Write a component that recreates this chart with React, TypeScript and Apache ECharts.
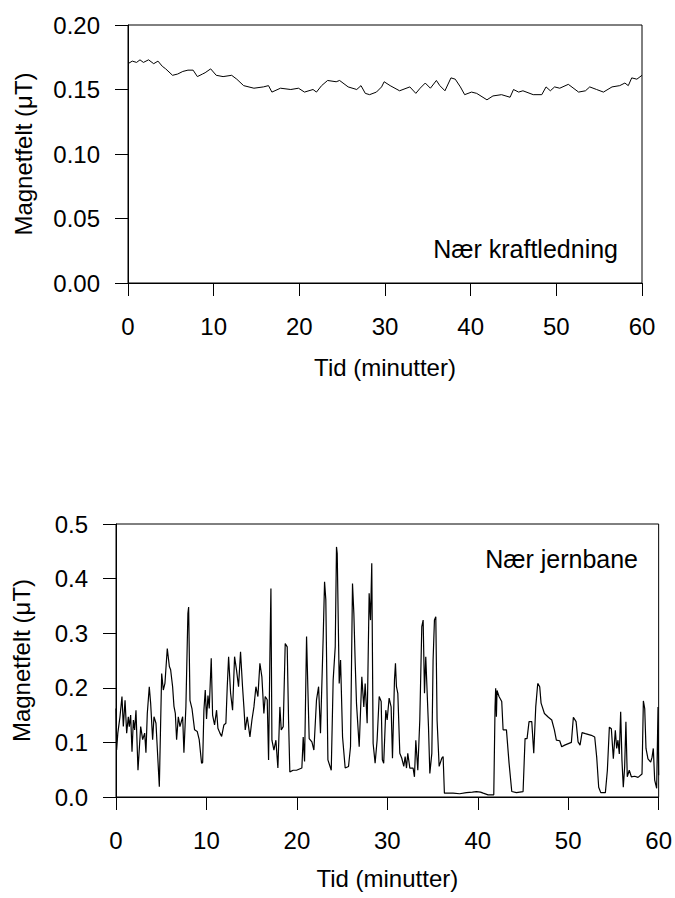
import React, { useEffect, useRef } from "react";
import * as echarts from "echarts";

// Top panel: near power line
const lineTime = [0, 0.5, 1.0, 1.4, 1.8, 2.4, 3.0, 3.5, 4.0, 4.4, 5.2, 5.8, 6.4, 7.0, 7.6, 8.1, 8.7, 9.0, 9.65, 10.3, 11.1, 12.1, 12.7, 13.5, 14.7, 15.8, 16.4, 16.8, 17.8, 19.0, 19.9, 20.6, 21.6, 22.0, 22.6, 23.3, 24.3, 24.7, 25.7, 26.7, 27.2, 27.7, 28.2, 29.0, 29.6, 29.9, 30.6, 31.7, 32.9, 33.6, 34.1, 34.7, 35.3, 36.0, 36.4, 37.0, 37.7, 38.2, 38.8, 39.3, 40.1, 40.7, 41.9, 42.6, 43.6, 44.6, 45.0, 45.6, 46.1, 47.3, 48.3, 48.8, 49.3, 49.8, 50.4, 51.4, 52.6, 53.4, 53.9, 54.7, 55.5, 56.5, 57.4, 58.0, 58.4, 58.8, 59.4, 60];
const lineField = [0.170, 0.172, 0.171, 0.173, 0.171, 0.173, 0.170, 0.172, 0.168, 0.166, 0.161, 0.162, 0.164, 0.165, 0.165, 0.160, 0.162, 0.163, 0.166, 0.161, 0.160, 0.161, 0.158, 0.153, 0.151, 0.152, 0.153, 0.148, 0.151, 0.150, 0.151, 0.148, 0.150, 0.148, 0.153, 0.157, 0.156, 0.157, 0.152, 0.150, 0.153, 0.147, 0.146, 0.148, 0.152, 0.156, 0.153, 0.149, 0.152, 0.147, 0.151, 0.155, 0.151, 0.157, 0.153, 0.149, 0.159, 0.158, 0.152, 0.146, 0.148, 0.147, 0.142, 0.145, 0.146, 0.144, 0.150, 0.148, 0.149, 0.146, 0.146, 0.152, 0.149, 0.152, 0.151, 0.154, 0.148, 0.149, 0.152, 0.150, 0.148, 0.152, 0.153, 0.155, 0.153, 0.159, 0.158, 0.161];

// Bottom panel: near railway
const railTime = [0, 0.07, 0.2, 0.44, 0.66, 0.81, 1.0, 1.18, 1.36, 1.47, 1.62, 1.77, 1.92, 2.06, 2.21, 2.43, 2.73, 2.95, 3.17, 3.31, 3.46, 3.68, 3.83, 4.05, 4.2, 4.42, 4.79, 5.05, 5.23, 5.41, 5.67, 5.9, 6.04, 6.26, 6.41, 6.56, 6.7, 6.89, 7.07, 7.37, 7.51, 7.73, 7.95, 8.03, 8.18, 8.4, 8.69, 8.98, 9.2, 9.46,
  9.58, 9.72, 9.87, 10.01, 10.17, 10.31, 10.53, 10.68, 10.9, 11.12, 11.27, 11.49, 11.68, 11.93, 12.15, 12.3, 12.45, 12.67, 12.89, 13.11, 13.33, 13.55, 13.77, 13.99, 14.14, 14.29, 14.51, 14.81, 15.03, 15.25, 15.47, 15.69, 15.91, 16.13, 16.35, 16.5, 16.72, 16.87, 17.02, 17.13, 17.24, 17.46, 17.68, 17.9, 18.12, 18.27, 18.49, 18.71, 18.93, 19.08, 19.22, 19.59,
  19.96, 20.55, 20.7, 20.85, 21.07, 21.21, 21.36, 21.66, 21.88, 22.17, 22.4, 22.61, 22.91, 23.06, 23.2, 23.43, 23.8, 24.01, 24.24, 24.38, 24.46, 24.68, 24.83, 25.05, 25.34, 25.71, 25.93, 26.15, 26.3, 26.45, 26.59, 26.89, 27.18, 27.4, 27.55, 27.77, 27.99, 28.14, 28.28, 28.43, 28.65, 28.87, 29.1, 29.32, 29.45, 29.6,
  29.83, 29.98, 30.2, 30.42, 30.57, 30.79, 30.9, 31.01, 31.16, 31.38, 31.6, 31.82, 31.97, 32.12, 32.26, 32.49, 32.85, 33.0, 33.15, 33.37, 33.59, 33.81, 33.96, 34.11, 34.25, 34.55, 34.7, 34.92, 35.06, 35.21, 35.36, 35.5, 35.73, 36.02, 36.17, 36.31, 37.27, 38.0, 38.74, 39.4, 39.85, 40.3, 40.6, 41.14, 41.77,
  41.91, 41.98, 42.06, 42.13, 42.35, 42.65, 42.8, 43.17, 43.46, 43.76, 44.27, 45.01, 45.23, 45.45, 45.67, 45.97, 46.19, 46.41, 46.63, 46.85, 47.0, 47.37, 47.81, 48.18, 48.47, 48.69, 49.06, 49.28, 49.61,
  50.35, 50.57, 50.87, 51.09, 51.31, 51.53, 51.9, 52.56, 52.93, 53.15, 53.37, 53.6, 54.11, 54.33, 54.55, 54.77, 54.99, 55.21, 55.36, 55.5, 55.65, 55.8, 55.94, 56.09, 56.24, 56.38, 56.53, 56.75, 56.98, 57.35, 57.72, 58.16, 58.31, 58.46, 58.6, 58.82, 59.12, 59.27, 59.41, 59.56, 59.78, 59.93, 60];
const railField = [0.162, 0.086, 0.117, 0.147, 0.184, 0.129, 0.177, 0.117, 0.147, 0.129, 0.150, 0.083, 0.141, 0.123, 0.159, 0.049, 0.129, 0.105, 0.117, 0.081, 0.153, 0.202, 0.172, 0.105, 0.147, 0.135, 0.019, 0.226, 0.196, 0.208, 0.272, 0.239, 0.233, 0.202, 0.166, 0.153, 0.105, 0.147, 0.129, 0.147, 0.081, 0.166, 0.336, 0.348, 0.177, 0.162, 0.123, 0.120, 0.105, 0.062,
  0.063, 0.159, 0.196, 0.143, 0.186, 0.162, 0.254, 0.150, 0.132, 0.159, 0.126, 0.117, 0.111, 0.132, 0.135, 0.202, 0.257, 0.190, 0.159, 0.257, 0.232, 0.202, 0.266, 0.202, 0.165, 0.123, 0.147, 0.110, 0.141, 0.165, 0.202, 0.184, 0.245, 0.220, 0.153, 0.184, 0.178, 0.068, 0.263, 0.382, 0.104, 0.086, 0.104, 0.053, 0.165, 0.123, 0.129, 0.281, 0.275, 0.141, 0.046, 0.049,
  0.049, 0.053, 0.110, 0.065, 0.294, 0.202, 0.107, 0.101, 0.086, 0.178, 0.202, 0.117, 0.294, 0.394, 0.361, 0.068, 0.049, 0.214, 0.275, 0.458, 0.446, 0.208, 0.251, 0.110, 0.053, 0.056, 0.092, 0.391, 0.336, 0.245, 0.172, 0.092, 0.220, 0.165, 0.208, 0.135, 0.373, 0.324, 0.428, 0.098, 0.062, 0.104, 0.184, 0.175, 0.068, 0.062,
  0.159, 0.141, 0.181, 0.165, 0.071, 0.214, 0.245, 0.202, 0.190, 0.080, 0.071, 0.056, 0.074, 0.053, 0.080, 0.053, 0.053, 0.037, 0.104, 0.049, 0.141, 0.312, 0.324, 0.190, 0.257, 0.129, 0.043, 0.080, 0.251, 0.324, 0.330, 0.141, 0.056, 0.071, 0.074, 0.007, 0.007, 0.006, 0.008, 0.009, 0.010, 0.009, 0.007, 0.004, 0.004,
  0.165, 0.199, 0.147, 0.195, 0.184, 0.175, 0.123, 0.123, 0.062, 0.010, 0.008, 0.010, 0.107, 0.107, 0.138, 0.138, 0.080, 0.165, 0.208, 0.202, 0.172, 0.153, 0.146, 0.141, 0.123, 0.104, 0.103, 0.092, 0.095,
  0.100, 0.146, 0.138, 0.101, 0.095, 0.118, 0.116, 0.113, 0.110, 0.073, 0.018, 0.008, 0.008, 0.049, 0.128, 0.125, 0.070, 0.122, 0.089, 0.104, 0.079, 0.156, 0.068, 0.018, 0.055, 0.138, 0.037, 0.049, 0.037, 0.038, 0.036, 0.042, 0.176, 0.162, 0.089, 0.070, 0.064, 0.073, 0.089, 0.031, 0.016, 0.165, 0.040];

const xTicks = [0, 10, 20, 30, 40, 50, 60];
const xName = "Tid (minutter)";
const yName = "Magnetfelt (μT)";
const topLabel = "Nær kraftledning";
const bottomLabel = "Nær jernbane";

const FONT = "'Liberation Sans', Arial, Helvetica, sans-serif";
const INK = "#000";

function xAxisFor(gridIndex: number, nameGap: number) {
  return {
    type: "value",
    gridIndex,
    min: xTicks[0],
    max: xTicks[xTicks.length - 1],
    interval: xTicks[1] - xTicks[0],
    name: xName,
    nameLocation: "middle",
    nameGap,
    nameTextStyle: { fontSize: 24, color: INK, fontFamily: FONT },
    axisLine: { show: true, onZero: false, lineStyle: { color: INK, width: 1 } },
    axisTick: { show: true, length: 13, lineStyle: { color: INK, width: 1 } },
    axisLabel: { fontSize: 24, color: INK, fontFamily: FONT, margin: 31 },
    splitLine: { show: false },
  };
}

function yAxisFor(gridIndex: number, max: number, interval: number, digits: number, nameGap: number) {
  return {
    type: "value",
    gridIndex,
    min: 0,
    max,
    interval,
    name: yName,
    nameLocation: "middle",
    nameGap,
    nameTextStyle: { fontSize: 24, color: INK, fontFamily: FONT },
    axisLine: { show: true, lineStyle: { color: INK, width: 1 } },
    axisTick: { show: true, length: 13, lineStyle: { color: INK, width: 1 } },
    axisLabel: {
      fontSize: 24,
      color: INK,
      fontFamily: FONT,
      margin: 28,
      formatter: (v: number) => v.toFixed(digits),
    },
    splitLine: { show: false },
  };
}

export default function App() {
  const ref = useRef<HTMLDivElement>(null);
  useEffect(() => {
    if (!ref.current) return;
    const chart = echarts.init(ref.current, undefined, { renderer: "svg" });
    const topData = lineTime.map((t, i) => [t, lineField[i]]);
    const bottomData = railTime.map((t, i) => [t, railField[i]]);
    chart.setOption({
      animation: false,
      backgroundColor: "#fff",
      grid: [
        { left: 128, top: 25, width: 514, height: 258, show: true, borderColor: INK, borderWidth: 1, backgroundColor: "transparent" },
        { left: 116, top: 524, width: 543, height: 273, show: true, borderColor: INK, borderWidth: 1, backgroundColor: "transparent" },
      ],
      xAxis: [xAxisFor(0, 72), xAxisFor(1, 69)],
      yAxis: [yAxisFor(0, 0.2, 0.05, 2, 93), yAxisFor(1, 0.5, 0.1, 1, 83)],
      series: [
        {
          type: "line",
          xAxisIndex: 0,
          yAxisIndex: 0,
          data: topData,
          showSymbol: false,
          symbol: "none",
          lineStyle: { color: INK, width: 1 },
          itemStyle: { color: INK },
        },
        {
          type: "line",
          xAxisIndex: 1,
          yAxisIndex: 1,
          data: bottomData,
          showSymbol: false,
          symbol: "none",
          lineStyle: { color: INK, width: 1.2 },
          itemStyle: { color: INK },
        },
      ],
      graphic: [
        {
          type: "text",
          right: 675 - 618,
          top: 236,
          style: { text: topLabel, fontSize: 25, fill: INK, fontFamily: FONT },
        },
        {
          type: "text",
          right: 675 - 638,
          top: 546,
          style: { text: bottomLabel, fontSize: 25, fill: INK, fontFamily: FONT },
        },
      ],
    });
    return () => chart.dispose();
  }, []);
  return (
    <div
      ref={ref}
      style={{ position: "absolute", left: 0, top: 0, width: 675, height: 898, background: "#fff" }}
    />
  );
}
